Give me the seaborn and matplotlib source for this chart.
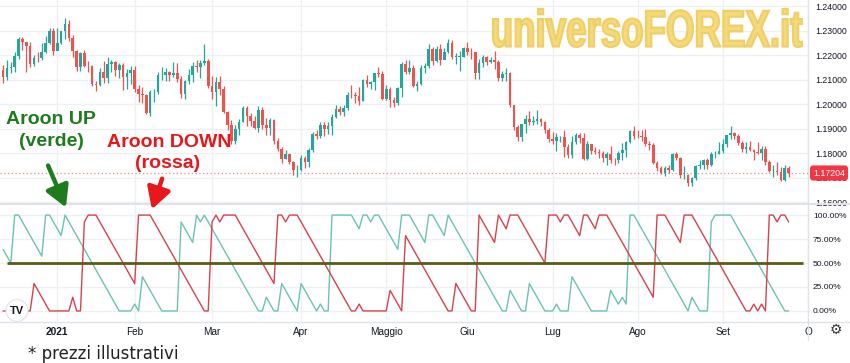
import numpy as np
import pandas as pd
import matplotlib
matplotlib.use("Agg")
import matplotlib.pyplot as plt
import seaborn as sns
from matplotlib.patches import PathPatch, FancyArrowPatch
from matplotlib.textpath import TextPath
from matplotlib.font_manager import FontProperties
from matplotlib.transforms import Affine2D

# EUR/USD daily candles, 11 Dec 2020 -> 24 Sep 2021
first_open = 1.2137
closes = [
    # Dec
    1.2112, 1.2147, 1.2150, 1.2197, 1.2265, 1.2255, 1.2237, 1.2164, 1.2188, 1.2187,
    1.2214, 1.2249, 1.2298, 1.2216,
    # Jan
    1.2250, 1.2297, 1.2326, 1.2271, 1.2218, 1.2151, 1.2207, 1.2157, 1.2155, 1.2081,
    1.2078, 1.2131, 1.2105, 1.2165, 1.2171, 1.2140, 1.2160, 1.2112, 1.2126, 1.2137,
    # Feb
    1.2062, 1.2041, 1.2037, 1.1963, 1.2048, 1.2050, 1.2118, 1.2120, 1.2132, 1.2119,
    1.2126, 1.2104, 1.2040, 1.2093, 1.2118, 1.2154, 1.2151, 1.2166, 1.2174, 1.2075,
    # Mar
    1.2048, 1.2091, 1.2062, 1.1967, 1.1916, 1.1848, 1.1900, 1.1927, 1.1985, 1.1952,
    1.1929, 1.1903, 1.1977, 1.1915, 1.1903, 1.1936, 1.1850, 1.1815, 1.1777, 1.1795,
    1.1765, 1.1729, 1.1730,
    # Apr
    1.1779, 1.1763, 1.1812, 1.1876, 1.1871, 1.1916, 1.1899, 1.1911, 1.1946, 1.1979,
    1.1966, 1.1983, 1.2037, 1.2036, 1.2034, 1.2013, 1.2097, 1.2082, 1.2088, 1.2125,
    1.2124, 1.2019,
    # May
    1.2063, 1.2016, 1.2004, 1.2065, 1.2164, 1.2131, 1.2148, 1.2074, 1.2081, 1.2146,
    1.2156, 1.2224, 1.2174, 1.2226, 1.2180, 1.2212, 1.2249, 1.2193, 1.2193, 1.2193,
    1.2228,
    # Jun
    1.2213, 1.2211, 1.2126, 1.2167, 1.2193, 1.2172, 1.2179, 1.2173, 1.2107, 1.2121,
    1.2125, 1.1995, 1.1908, 1.1864, 1.1917, 1.1940, 1.1925, 1.1929, 1.1937, 1.1925,
    1.1894, 1.1858,
    # Jul
    1.1849, 1.1865, 1.1866, 1.1824, 1.1790, 1.1844, 1.1874, 1.1860, 1.1776, 1.1837,
    1.1810, 1.1806, 1.1802, 1.1781, 1.1794, 1.1771, 1.1770, 1.1801, 1.1813, 1.1843,
    1.1888, 1.1869,
    # Aug
    1.1868, 1.1867, 1.1836, 1.1834, 1.1761, 1.1738, 1.1719, 1.1739, 1.1729, 1.1794,
    1.1778, 1.1710, 1.1711, 1.1676, 1.1697, 1.1746, 1.1752, 1.1772, 1.1753, 1.1794,
    1.1798, 1.1808,
    # Sep
    1.1837, 1.1873, 1.1881, 1.1868, 1.1839, 1.1818, 1.1826, 1.1814, 1.1805, 1.1802,
    1.1818, 1.1762, 1.1726, 1.1728, 1.1723, 1.1689, 1.1740, 1.17204,
]
highs = [
    1.2160, 1.2178, 1.2172, 1.2212, 1.2273, 1.2272, 1.2250, 1.2255, 1.2200, 1.2212,
    1.2250, 1.2276, 1.2310, 1.2310,
    1.2309, 1.2300, 1.2349, 1.2342, 1.2282, 1.2220, 1.2212, 1.2222, 1.2174, 1.2160,
    1.2093, 1.2145, 1.2174, 1.2190, 1.2181, 1.2177, 1.2168, 1.2169, 1.2144, 1.2156,
    1.2155, 1.2078, 1.2069, 1.2040, 1.2058, 1.2060, 1.2130, 1.2150, 1.2149, 1.2136,
    1.2170, 1.2169, 1.2113, 1.2098, 1.2144, 1.2170, 1.2181, 1.2178, 1.2243, 1.2185,
    1.2113, 1.2110, 1.2113, 1.2075, 1.1972, 1.1935, 1.1915, 1.1937, 1.1990, 1.1990,
    1.1963, 1.1952, 1.1990, 1.1989, 1.1944, 1.1942, 1.1939, 1.1860, 1.1826, 1.1812,
    1.1797, 1.1767, 1.1753,
    1.1791, 1.1786, 1.1822, 1.1886, 1.1893, 1.1926, 1.1928, 1.1925, 1.1960, 1.1994,
    1.1990, 1.1995, 1.2049, 1.2079, 1.2050, 1.2070, 1.2102, 1.2117, 1.2095, 1.2128,
    1.2150, 1.2134,
    1.2077, 1.2070, 1.2028, 1.2070, 1.2172, 1.2181, 1.2178, 1.2160, 1.2093, 1.2158,
    1.2168, 1.2245, 1.2233, 1.2235, 1.2245, 1.2228, 1.2266, 1.2262, 1.2209, 1.2215,
    1.2234,
    1.2254, 1.2230, 1.2212, 1.2184, 1.2200, 1.2195, 1.2191, 1.2218, 1.2181, 1.2133,
    1.2145, 1.2132, 1.1998, 1.1915, 1.1920, 1.1954, 1.1970, 1.1950, 1.1975, 1.1941,
    1.1930, 1.1903,
    1.1887, 1.1882, 1.1870, 1.1895, 1.1838, 1.1868, 1.1880, 1.1880, 1.1880, 1.1849,
    1.1838, 1.1823, 1.1816, 1.1808, 1.1803, 1.1829, 1.1781, 1.1810, 1.1840, 1.1849,
    1.1893, 1.1909,
    1.1894, 1.1892, 1.1900, 1.1848, 1.1840, 1.1768, 1.1746, 1.1745, 1.1753, 1.1800,
    1.1805, 1.1785, 1.1747, 1.1716, 1.1703, 1.1752, 1.1770, 1.1774, 1.1778, 1.1805,
    1.1810, 1.1846,
    1.1858, 1.1875, 1.1909, 1.1887, 1.1877, 1.1851, 1.1845, 1.1847, 1.1817, 1.1845,
    1.1830, 1.1828, 1.1772, 1.1753, 1.1765, 1.1742, 1.1750, 1.1749,
]
lows = [
    1.2087, 1.2100, 1.2125, 1.2130, 1.2185, 1.2220, 1.2131, 1.2150, 1.2155, 1.2170,
    1.2178, 1.2208, 1.2243, 1.2200,
    1.2223, 1.2245, 1.2265, 1.2256, 1.2193, 1.2133, 1.2134, 1.2150, 1.2130, 1.2074,
    1.2054, 1.2075, 1.2086, 1.2085, 1.2132, 1.2116, 1.2107, 1.2058, 1.2062, 1.2080,
    1.2050, 1.2010, 1.2005, 1.1960, 1.1952, 1.2010, 1.2040, 1.2100, 1.2095, 1.2092,
    1.2110, 1.2090, 1.2023, 1.2022, 1.2081, 1.2091, 1.2131, 1.2108, 1.2161, 1.2064,
    1.2022, 1.1991, 1.2035, 1.1963, 1.1893, 1.1836, 1.1835, 1.1875, 1.1925, 1.1910,
    1.1910, 1.1896, 1.1884, 1.1900, 1.1875, 1.1874, 1.1838, 1.1810, 1.1761, 1.1775,
    1.1757, 1.1712, 1.1704,
    1.1725, 1.1740, 1.1742, 1.1803, 1.1858, 1.1863, 1.1870, 1.1876, 1.1874, 1.1943,
    1.1955, 1.1950, 1.1975, 1.2025, 1.2006, 1.1996, 1.2012, 1.2070, 1.2060, 1.2058,
    1.2110, 1.2017,
    1.2018, 1.1986, 1.1988, 1.1994, 1.2030, 1.2121, 1.2122, 1.2071, 1.2052, 1.2076,
    1.2125, 1.2149, 1.2160, 1.2170, 1.2161, 1.2183, 1.2210, 1.2185, 1.2164, 1.2133,
    1.2191,
    1.2200, 1.2182, 1.2104, 1.2104, 1.2150, 1.2159, 1.2167, 1.2144, 1.2093, 1.2092,
    1.2093, 1.1987, 1.1893, 1.1847, 1.1849, 1.1880, 1.1915, 1.1915, 1.1920, 1.1910,
    1.1881, 1.1846,
    1.1836, 1.1807, 1.1846, 1.1782, 1.1781, 1.1780, 1.1836, 1.1840, 1.1772, 1.1773,
    1.1796, 1.1798, 1.1780, 1.1764, 1.1752, 1.1758, 1.1753, 1.1760, 1.1770, 1.1782,
    1.1840, 1.1856,
    1.1860, 1.1850, 1.1830, 1.1813, 1.1755, 1.1726, 1.1713, 1.1705, 1.1719, 1.1725,
    1.1772, 1.1700, 1.1695, 1.1665, 1.1664, 1.1690, 1.1735, 1.1735, 1.1734, 1.1746,
    1.1778, 1.1795,
    1.1800, 1.1823, 1.1857, 1.1859, 1.1834, 1.1803, 1.1800, 1.1810, 1.1770, 1.1797,
    1.1773, 1.1750, 1.1722, 1.1701, 1.1711, 1.1684, 1.1684, 1.1702,
]

# Aroon(14): bars elapsed since the 14-period high / low, read bar by bar
aroon_up_age = [
    5, 6, 7, 0, 0, 1, 2, 3, 4, 5, 6, 0, 0, 1, 2, 3, 0,
    1, 2, 3, 4, 5, 6, 7, 8, 9, 10, 11, 12, 13, 14,
    14, 14, 14, 13, 14, 9, 10, 11, 12, 13, 14, 14, 14, 14, 14,
    1, 2, 3, 4, 0, 1, 0,
    1, 2, 3, 4, 5, 6, 7, 8, 9, 10, 11, 12, 13, 14,
    14, 12, 13, 14, 14, 10, 11, 12, 13, 14, 10, 11, 12, 13, 14, 13, 14, 14,
    0, 0, 0, 0, 0, 0, 1, 2, 0, 0, 1, 0, 0,
    1, 2, 3, 4, 5, 0, 0, 0, 1, 2, 3, 4, 0, 0, 1, 2, 3, 0,
    1, 2, 3, 4, 5, 6, 7, 8, 9, 10, 11, 12, 13, 14,
    14, 11, 12, 13, 14, 14, 10, 11, 12, 13, 14, 14, 14, 13, 14, 14, 14,
    9, 10, 11, 12, 13, 14, 14, 14, 14, 14, 11, 12, 13, 12, 13, 0, 0,
    1, 2, 3, 4, 5, 6, 7, 8, 9, 10, 11, 12, 13, 14,
    12, 13, 14, 14, 14, 1, 0, 0, 0, 0, 0,
    1, 2, 3, 4, 5, 6, 7, 8, 9, 10, 11, 12, 13, 14,
    14,
]
aroon_down_age = [
    14, 14, 14, 14, 14, 14, 14, 14, 10, 11, 12, 13, 14,
    14, 14, 14, 14, 14, 12, 14, 14,
    1, 0, 0, 0,
    1, 2, 3, 4, 5, 6, 7, 8, 9, 10,
    0, 0, 0, 0,
    1, 2, 3, 4, 5, 6, 7, 8, 9, 10, 11, 12, 13, 14,
    14, 1, 0, 1, 0, 0, 0, 0,
    1, 2, 3, 4, 5, 6, 7, 8, 9, 10,
    0, 0, 1, 0, 0, 0,
    1, 2, 3, 4, 5, 6, 7, 8, 9, 10, 11, 12, 13, 14,
    14, 13, 14, 14, 14, 14, 14, 14, 14, 11, 12, 13, 14,
    3, 4, 5, 6, 7, 8, 9, 10, 11, 12, 13, 14,
    14, 10, 11, 12, 13, 14, 14,
    0, 1, 2, 3, 4, 0, 1, 2, 0, 0, 0,
    1, 2, 3, 4, 5, 6, 7,
    0, 0, 0, 1, 0, 0, 1, 2, 3, 0, 0, 1, 2, 0, 0, 0,
    1, 2, 3, 4, 5, 6, 7, 8, 9, 10, 11, 12,
    0, 0, 0, 1, 2, 3, 4, 0, 0, 0,
    1, 2, 3, 4, 5, 6, 7, 8, 9, 10, 11, 12, 13, 14,
    14, 13, 14, 13, 14, 0, 0, 1, 0, 0, 1,
]
aroon_length = 14

month_labels = ["2021", "Feb", "Mar", "Apr", "Maggio", "Giu", "Lug", "Ago", "Set", "O"]
price_ticks = [1.16, 1.17, 1.18, 1.19, 1.20, 1.21, 1.22, 1.23, 1.24]
pct_ticks = [0, 25, 50, 75, 100]
mid_level = 50
last_price = 1.17204

# ---------------------------------------------------------------------------
W, H = 850, 363
UP, DOWN = "#26a69a", "#ef5350"
AROON_UP, AROON_DOWN = "#6cc2b3", "#d8424d"
GRID = "#eef0f4"
SEP = "#dfe2e8"
TXT = "#131722"
TICK_FS = 6.3

dates = pd.bdate_range("2020-12-11", "2021-09-24")
dates = dates[~dates.isin(pd.to_datetime(["2020-12-25", "2021-01-01"]))]
n = len(dates)
idx = np.arange(n)

df = pd.DataFrame({"date": dates, "close": closes, "high": highs, "low": lows})
df["open"] = [first_open] + closes[:-1]
df["rising"] = df["close"] >= df["open"]
df["aroon_up"] = (aroon_length - np.array(aroon_up_age)) / aroon_length * 100
df["aroon_down"] = (aroon_length - np.array(aroon_down_age)) / aroon_length * 100

month_pos = [i for i in range(1, n) if dates[i].month != dates[i - 1].month]
month_pos.append(n + len(pd.bdate_range("2021-09-27", "2021-09-30")))

sns.set_style("white")
plt.rcParams["font.family"] = ["Liberation Sans", "DejaVu Sans"]


def fx(x):
    return x / W


def fy(y):
    return 1 - y / H


fig = plt.figure(figsize=(W / 100, H / 100), dpi=100)
ax_p = fig.add_axes([0, fy(203), fx(808), 203 / H])
ax_a = fig.add_axes([0, fy(321), fx(808), (321 - 205) / H])

xlim = (-0.8, 208)

# price panel ---------------------------------------------------------------
colors = np.where(df["rising"], UP, DOWN)
ax_p.vlines(idx, df["low"], df["high"], colors=colors, lw=0.9, zorder=3)
body_lo = np.minimum(df["open"], df["close"])
body_h = np.maximum(np.abs(df["close"] - df["open"]), 0.00012)
ax_p.bar(idx, body_h, bottom=body_lo, width=0.68, color=colors, lw=0, zorder=4)
ax_p.axhline(last_price, color=DOWN, lw=0.9, ls=(0, (1, 2)), alpha=0.7, zorder=2)

ax_p.set_xlim(*xlim)
ax_p.set_ylim(1.1596, 1.24245)
ax_p.set_yticks(price_ticks)
ax_p.set_yticklabels([f"{v:.5f}" for v in price_ticks])
ax_p.set_xticks(month_pos)
ax_p.tick_params(axis="x", labelbottom=False, length=0)
ax_p.yaxis.tick_right()
ax_p.tick_params(axis="y", length=0, pad=5, labelsize=TICK_FS, labelcolor=TXT)
ax_p.grid(True, color=GRID, lw=1)

# aroon panel ---------------------------------------------------------------
sns.lineplot(x=idx, y=df["aroon_up"], color=AROON_UP, lw=1, ax=ax_a, zorder=3)
sns.lineplot(x=idx, y=df["aroon_down"], color=AROON_DOWN, lw=1, ax=ax_a, zorder=3)
ax_a.hlines(mid_level, 1, 206.7, color="#5b5a18", lw=2, zorder=4)

ax_a.set_xlim(*xlim)
ax_a.set_ylim(-10.5, 110.5)
ax_a.set_yticks(pct_ticks)
ax_a.set_yticklabels([f"{v:.2f}%" for v in pct_ticks])
ax_a.yaxis.tick_right()
ax_a.tick_params(axis="y", length=0, pad=3.5, labelsize=6.0, labelcolor=TXT)
ax_a.set_xticks(month_pos)
ax_a.set_xticklabels(month_labels)
ax_a.tick_params(axis="x", length=0, pad=4, labelsize=7.2, labelcolor=TXT)
ax_a.get_xticklabels()[0].set_fontweight("bold")
ax_a.grid(True, color=GRID, lw=1)
ax_a.set_xlabel("")
ax_a.set_ylabel("")

for ax in (ax_p, ax_a):
    for s in ax.spines.values():
        s.set_visible(False)

# separators
fig.add_artist(plt.Line2D([0, 1], [fy(204), fy(204)], color=SEP, lw=1.5))
fig.add_artist(plt.Line2D([0, 1], [fy(321.5), fy(321.5)], color=SEP, lw=1))
fig.add_artist(plt.Line2D([fx(808), fx(808)], [fy(0), fy(340)], color=SEP, lw=1))

# last price tag
fig.text(fx(829), fy(173), f"{last_price:.5f}", color="white", fontsize=TICK_FS,
         ha="center", va="center",
         bbox=dict(boxstyle="round,pad=0.35", fc="#f23645", ec="none"))

# TradingView logo and settings icon
ax_a.text(fx(17) / fx(808), 0.09, "TV", transform=ax_a.transAxes, fontsize=8,
          fontweight="bold", ha="center", va="center", color="#131722",
          bbox=dict(boxstyle="circle,pad=0.35", fc="white", ec="#e0e3eb", lw=0.8), zorder=6)
fig.text(fx(836), fy(330), "\u2699", fontsize=10, ha="center", va="center",
         color="#333333", family="DejaVu Sans")

# watermark
fp = FontProperties(family="Liberation Sans", weight="bold")
tp = TextPath((0, 0), "universoFOREX.it", size=100, prop=fp)
ext = tp.get_extents()
x0, x1, ytop, ybase = 493, 802, 9, 47
tr = (Affine2D().translate(-ext.x0, -ext.y0)
      .scale((x1 - x0) / ext.width, (ybase - ytop) / ext.height)
      .translate(x0, H - ybase).scale(1 / W, 1 / H) + fig.transFigure)
fig.add_artist(PathPatch(tp, transform=tr, fc="#f6d978", ec="#efcf68", lw=1.6, zorder=10))

# annotations
green_txt, red_txt = "#1e7b1e", "#e8171c"
fig.text(fx(51), fy(124), "Aroon UP", color=green_txt, fontsize=14, fontweight="bold",
         ha="center", va="baseline")
fig.text(fx(51), fy(146), "(verde)", color=green_txt, fontsize=14, fontweight="bold",
         ha="center", va="baseline")
fig.text(fx(169), fy(147), "Aroon DOWN", color=red_txt, fontsize=14, fontweight="bold",
         ha="center", va="baseline")
fig.text(fx(168), fy(168), "(rossa)", color=red_txt, fontsize=14, fontweight="bold",
         ha="center", va="baseline")

fig.add_artist(FancyArrowPatch((fx(47), fy(163)), (fx(67), fy(210)),
                               transform=fig.transFigure, color=green_txt, lw=3.2,
                               arrowstyle="-|>,head_length=0.8,head_width=0.45",
                               mutation_scale=16, zorder=11))
fig.add_artist(FancyArrowPatch((fx(163), fy(176)), (fx(151), fy(212)),
                               transform=fig.transFigure, color=red_txt, lw=3.2,
                               arrowstyle="-|>,head_length=0.8,head_width=0.45",
                               mutation_scale=16, zorder=11))

fig.text(fx(28), fy(359), "* prezzi illustrativi", fontsize=12, color="#222222",
         family="DejaVu Sans", ha="left", va="baseline")

fig.savefig("out.png", dpi=100, facecolor="white")
